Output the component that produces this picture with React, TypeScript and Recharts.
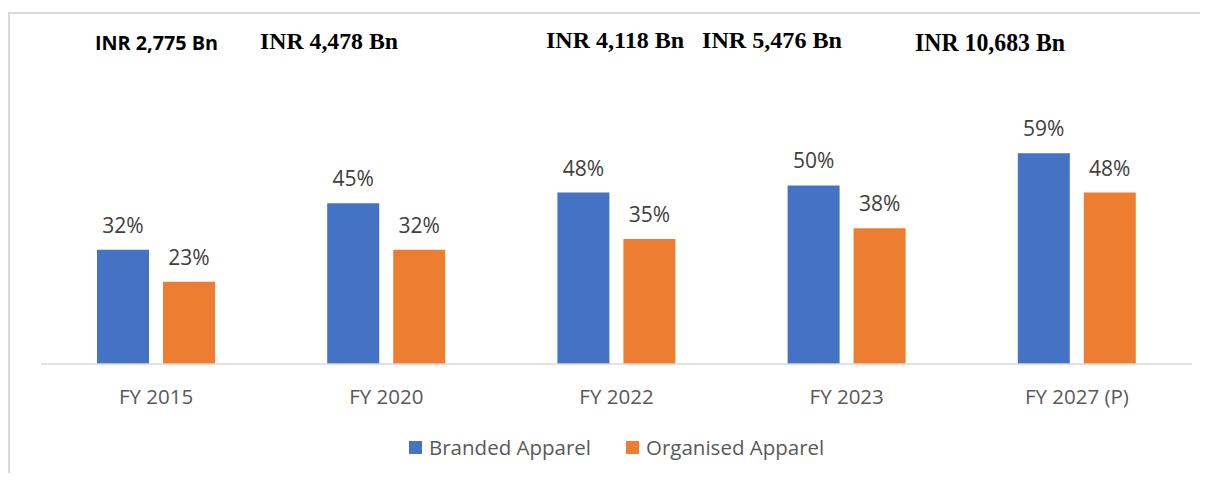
import React from 'react';
import { BarChart, Bar, XAxis, YAxis, Legend, LabelList, Customized } from 'recharts';

const categories = ['FY 2015', 'FY 2020', 'FY 2022', 'FY 2023', 'FY 2027 (P)'];
const brandedApparel = [32, 45, 48, 50, 59];
const organisedApparel = [23, 32, 35, 38, 48];
const marketSizeLabels = ['INR 2,775 Bn', 'INR 4,478 Bn', 'INR 4,118 Bn', 'INR 5,476 Bn', 'INR 10,683 Bn'];

// annotation layout (text boxes placed freely above the plot)
const annotationLayout = [
  { x: 87, y: 42, w: 123, font: '"Open Sans", sans-serif', size: 19 },
  { x: 252, y: 41, w: 138, font: '"Liberation Serif", "Times New Roman", serif', size: 24 },
  { x: 538, y: 40, w: 138, font: '"Liberation Serif", "Times New Roman", serif', size: 24 },
  { x: 694, y: 40, w: 140, font: '"Liberation Serif", "Times New Roman", serif', size: 24 },
  { x: 907, y: 43, w: 150, font: '"Liberation Serif", "Times New Roman", serif', size: 25 },
];

const data = categories.map((c, i) => ({
  name: c,
  branded: brandedApparel[i],
  organised: organisedApparel[i],
}));

const BLUE = '#4472C4';
const ORANGE = '#ED7D31';

const Annotations = () => (
  <g>
    {marketSizeLabels.map((t, i) => {
      const a = annotationLayout[i];
      return (
        <text
          key={t}
          x={a.x}
          y={a.y}
          fontFamily={a.font}
          fontSize={a.size}
          fontWeight="bold"
          fill="#000"
          textLength={a.w}
          lengthAdjust="spacingAndGlyphs"
        >
          {t}
        </text>
      );
    })}
  </g>
);

const legendItems = [
  { label: 'Branded Apparel', color: BLUE },
  { label: 'Organised Apparel', color: ORANGE },
];

const renderLegend = () => (
  <div
    style={{
      display: 'flex',
      alignItems: 'center',
      height: 24,
      lineHeight: '24px',
      marginLeft: 401,
      fontFamily: '"Open Sans", sans-serif',
      fontSize: 20.5,
      color: '#595959',
      whiteSpace: 'nowrap',
    }}
  >
    {legendItems.map((it, i) => (
      <div key={it.label} style={{ display: 'flex', alignItems: 'center', marginRight: i === 0 ? 35 : 0 }}>
        <span style={{ display: 'inline-block', width: 13, height: 13, background: it.color, marginRight: 7 }} />
        <span>{it.label}</span>
      </div>
    ))}
  </div>
);

export default function App() {
  return (
    <div style={{ position: 'relative', width: 1192, height: 465, fontFamily: '"Open Sans", sans-serif' }}>
      <div style={{ position: 'absolute', left: 0, top: 4, width: 1200, height: 2, background: '#d9d9d9' }} />
      <div style={{ position: 'absolute', left: 0, top: 4, width: 2, height: 469, background: '#d9d9d9' }} />
      <BarChart
        width={1192}
        height={465}
        data={data}
        margin={{ top: 106, right: 8, bottom: 79, left: 33 }}
        barSize={52}
        barGap={14}
        style={{ position: 'absolute', left: 0, top: 0 }}
      >
        <XAxis
          dataKey="name"
          height={30}
          tickLine={false}
          axisLine={{ stroke: '#d9d9d9', strokeWidth: 1.5 }}
          tickMargin={19}
          tick={{ fill: '#595959', fontSize: 20.5, fontFamily: '"Open Sans", sans-serif' }}
          interval={0}
        />
        <YAxis hide domain={[0, 70]} />
        <Legend
          layout="horizontal"
          verticalAlign="middle"
          align="center"
          content={renderLegend}
          wrapperStyle={{ left: 0, top: 427, width: 1192 }}
        />
        <Bar dataKey="branded" name="Branded Apparel" fill={BLUE} isAnimationActive={false}>
          <LabelList
            dataKey="branded"
            position="top"
            offset={17}
            formatter={(v: number) => `${v}%`}
            fill="#404040"
            fontSize={21}
            fontFamily='"Open Sans", sans-serif'
          />
        </Bar>
        <Bar dataKey="organised" name="Organised Apparel" fill={ORANGE} isAnimationActive={false}>
          <LabelList
            dataKey="organised"
            position="top"
            offset={17}
            formatter={(v: number) => `${v}%`}
            fill="#404040"
            fontSize={21}
            fontFamily='"Open Sans", sans-serif'
          />
        </Bar>
        <Customized component={Annotations} />
      </BarChart>
    </div>
  );
}
